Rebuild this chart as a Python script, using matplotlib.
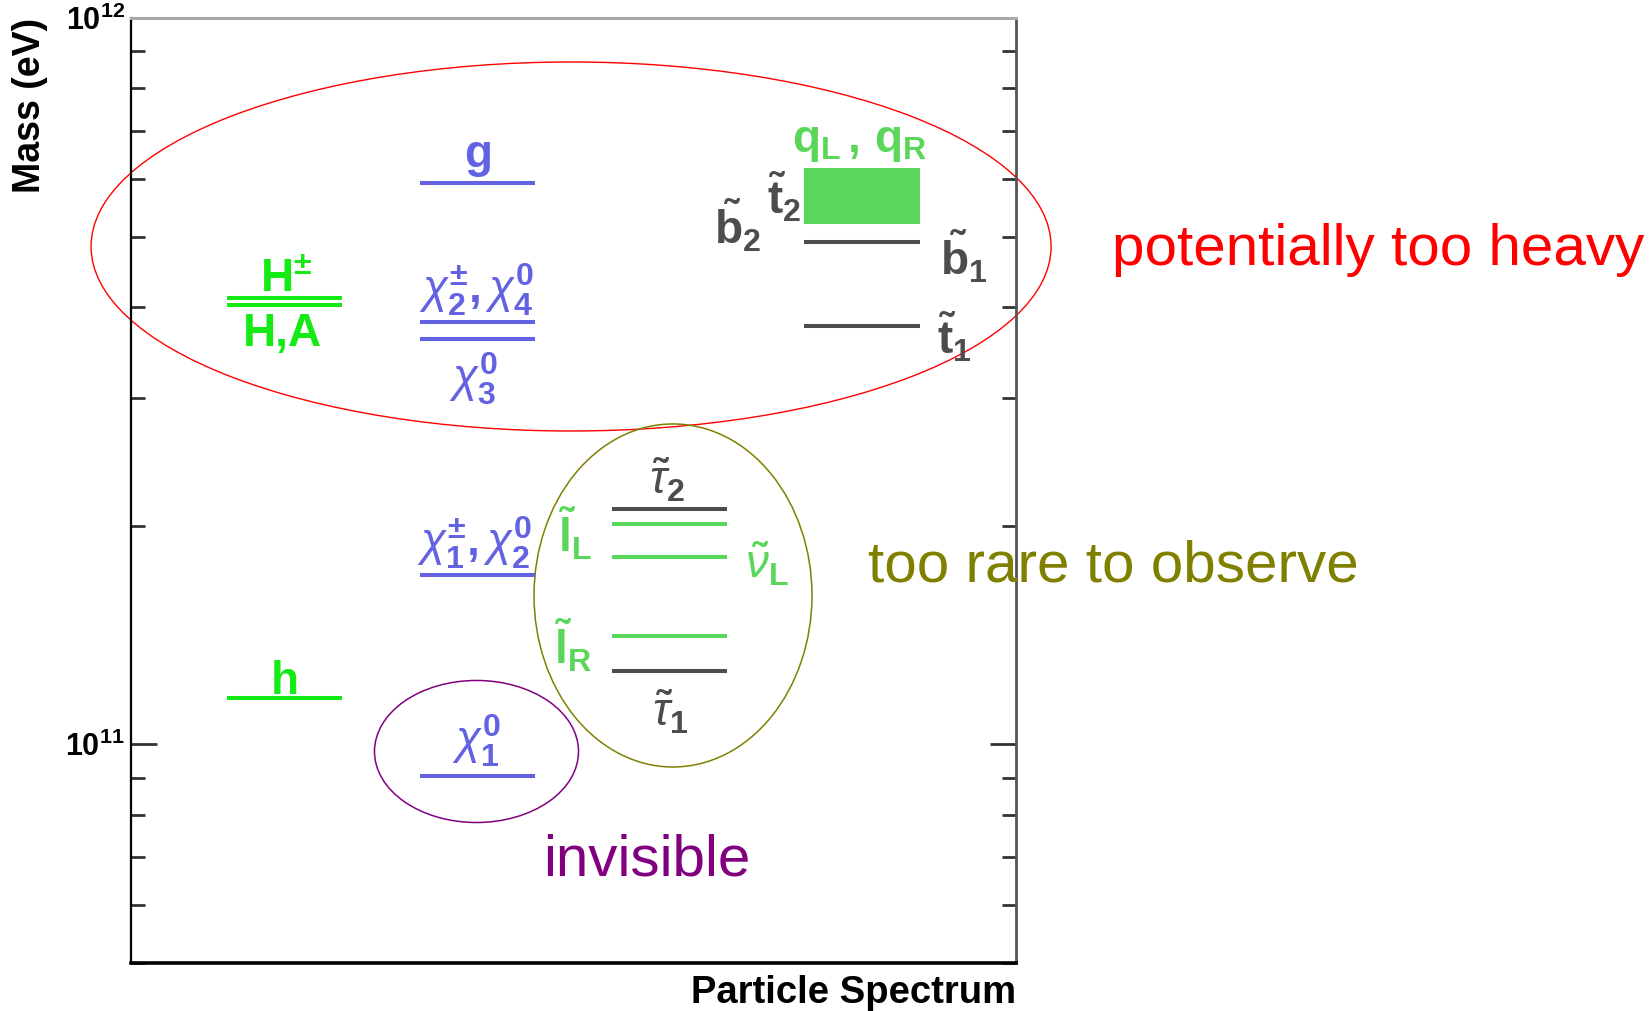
import matplotlib
matplotlib.use("Agg")
import matplotlib.pyplot as plt
from matplotlib.patches import Ellipse, Rectangle
from matplotlib.ticker import LogLocator, NullFormatter, FixedLocator, FixedFormatter

plt.rcParams['font.family'] = ['Liberation Sans', 'DejaVu Sans']
plt.rcParams['mathtext.fontset'] = 'custom'
plt.rcParams['mathtext.rm'] = 'Liberation Sans:bold'
plt.rcParams['mathtext.bf'] = 'Liberation Sans:bold'
plt.rcParams['mathtext.it'] = 'Liberation Sans:italic'
plt.rcParams['mathtext.sf'] = 'Liberation Sans:bold'

# ---------------- data (masses in eV) ----------------
column_x = [0.174, 0.392, 0.609, 0.826]   # Higgs, gauginos, sleptons, squarks
half_width = 0.065

higgs_names = ['H+-', 'H,A', 'h']
higgs_mass = [4.12e11, 4.03e11, 1.158e11]

gaugino_names = ['g', 'chi2+-/chi4', 'chi3', 'chi1+-/chi2', 'chi1']
gaugino_mass = [5.93e11, 3.82e11, 3.62e11, 1.71e11, 9.04e10]

slepton_names = ['tau2', 'eL', 'nuL', 'eR', 'tau1']
slepton_mass = [2.11e11, 2.01e11, 1.81e11, 1.41e11, 1.26e11]
slepton_kind = ['stau', 'sel', 'sel', 'sel', 'stau']

squark_band = [5.20e11, 6.21e11]          # q_L, q_R band (lower, upper)
stop_sbottom_names = ['b1', 't1']
stop_sbottom_mass = [4.92e11, 3.77e11]

y_limits = [5e10, 1e12]
major_ticks = [1e11, 1e12]
major_labels = [r'$10^{11}$', r'$10^{12}$']

# ---------------- style ----------------
BLUE = '#6262e2'
GRAY = '#4d4d4d'
LGREEN = '#5ad65a'
HGREEN = '#14ea14'
LW = 2.9
LSIZE = 33

PX = 0.72  # points per pixel at dpi 100

fig = plt.figure(figsize=(16.5, 10.11), dpi=100)
ax = fig.add_axes([0.0791, 0.0475, 0.5367, 0.9347])
ax.set_yscale('log')
ax.set_xlim(0, 1)
ax.set_ylim(*y_limits)


def level(x, m, color):
    ax.hlines(m, x - half_width, x + half_width, colors=color, linewidth=LW)


def label(x, m, text, dx, dy, color, ha='center', va='bottom', size=LSIZE):
    ax.annotate(text, xy=(x, m), xytext=(dx * PX, dy * PX), textcoords='offset points',
                ha=ha, va=va, color=color, fontsize=size, fontweight='bold',
                annotation_clip=False)


# Higgs column
xh = column_x[0]
for m in higgs_mass:
    level(xh, m, HGREEN)
label(xh, higgs_mass[0], r'$\mathrm{H^{\pm}}$', 2, -4, HGREEN)
label(xh, higgs_mass[1], 'H,A', -2, -7, HGREEN, va='top')
label(xh, higgs_mass[2], 'h', 0, 4, HGREEN, va='baseline')

# Gaugino column
xg = column_x[1]
for m in gaugino_mass:
    level(xg, m, BLUE)
label(xg, gaugino_mass[0], 'g', 0, 16, BLUE, va='baseline')
label(xg, gaugino_mass[1], r'$\chi^{\pm}_{2}, \chi^{0}_{4}$', -1, 4, BLUE)
label(xg, gaugino_mass[2], r'$\chi^{0}_{3}$', -4, -12, BLUE, va='top')
label(xg, gaugino_mass[3], r'$\chi^{\pm}_{1}, \chi^{0}_{2}$', -3, 4, BLUE)
label(xg, gaugino_mass[4], r'$\chi^{0}_{1}$', -1, 7, BLUE)

# Slepton column
xs = column_x[2]
for m, k in zip(slepton_mass, slepton_kind):
    level(xs, m, GRAY if k == 'stau' else LGREEN)
label(xs, slepton_mass[0], r'$\tilde{\tau}_{2}$', -3, 4, GRAY)
label(xs, slepton_mass[4], r'$\tilde{\tau}_{1}$', 0, -17, GRAY, va='top')
label(xs - half_width, slepton_mass[1], r'$\tilde{\mathrm{l}}_{\mathrm{L}}$', -20, -10, LGREEN,
      ha='right', va='center')
label(xs + half_width, slepton_mass[2], r'$\tilde{\nu}_{\mathrm{L}}$', 18, -7, LGREEN,
      ha='left', va='center')
label(xs - half_width, slepton_mass[3], r'$\tilde{\mathrm{l}}_{\mathrm{R}}$', -21, -10, LGREEN,
      ha='right', va='center')

# Squark column
xq = column_x[3]
ax.add_patch(Rectangle((xq - half_width, squark_band[0]), 2 * half_width,
                       squark_band[1] - squark_band[0], facecolor=LGREEN, edgecolor='none'))
label(xq, squark_band[1], r'$\mathrm{q_{L}\,,\,q_{R}}$', -2, 4, LGREEN)
for m in stop_sbottom_mass:
    level(xq, m, GRAY)
label(xq - half_width, stop_sbottom_mass[0], r'$\tilde{\mathrm{b}}_{2}$', -43, -13, GRAY, ha='right')
label(xq - half_width, squark_band[0], r'$\tilde{\mathrm{t}}_{2}$', -3, 0, GRAY, ha='right')
label(xq + half_width, stop_sbottom_mass[0], r'$\tilde{\mathrm{b}}_{1}$', 20, -15, GRAY,
      ha='left', va='center')
label(xq + half_width, stop_sbottom_mass[1], r'$\tilde{\mathrm{t}}_{1}$', 17, -12, GRAY,
      ha='left', va='center')

# ---------------- axes styling ----------------
ax.yaxis.set_major_locator(FixedLocator(major_ticks))
ax.yaxis.set_major_formatter(FixedFormatter(major_labels))
ax.yaxis.set_minor_locator(LogLocator(base=10, subs=range(2, 10)))
ax.yaxis.set_minor_formatter(NullFormatter())
ax.set_xticks([])
ax.tick_params(axis='y', which='both', direction='in', left=True, right=True,
               color='#333333', labelsize=22)
ax.tick_params(axis='y', which='major', length=19, width=2, pad=4)
ax.tick_params(axis='y', which='minor', length=10, width=2)

ax.spines['left'].set_linewidth(1.6)
ax.spines['left'].set_color('black')
ax.spines['bottom'].set_linewidth(2.6)
ax.spines['bottom'].set_color('black')
ax.spines['top'].set_linewidth(2.2)
ax.spines['top'].set_color('#a8a8a8')
ax.spines['right'].set_linewidth(2.0)
ax.spines['right'].set_color('#555555')

ax.set_ylabel('Mass (eV)', fontsize=27, fontweight='bold', loc='top')
ax.yaxis.set_label_coords(-0.0932, 1.0)
ax.set_xlabel('Particle Spectrum', fontsize=27.5, fontweight='bold', loc='right')
ax.xaxis.set_label_coords(1.0, -0.0127)

# ---------------- grouping ellipses and comments ----------------
ax.add_patch(Ellipse((0.4975, 0.7582), 1.0841, 0.3905, transform=ax.transAxes,
                     fill=False, edgecolor='#ff0000', linewidth=1.0, clip_on=False))
ax.add_patch(Ellipse((0.6126, 0.3889), 0.3139, 0.3630, transform=ax.transAxes,
                     fill=False, edgecolor='#808000', linewidth=1.1, clip_on=False))
ax.add_patch(Ellipse((0.3907, 0.2238), 0.2304, 0.1503, transform=ax.transAxes,
                     fill=False, edgecolor='#800080', linewidth=1.1, clip_on=False))

fig.text(1112 / 1650, 1 - 265 / 1011, 'potentially too heavy', color='#ff0000',
         fontsize=42, ha='left', va='baseline')
fig.text(868 / 1650, 1 - 582 / 1011, 'too rare to observe', color='#808000',
         fontsize=42, ha='left', va='baseline')
fig.text(543 / 1650, 1 - 875 / 1011, 'invisible', color='#800080',
         fontsize=42, ha='left', va='baseline')

fig.savefig('out.png', dpi=100)
